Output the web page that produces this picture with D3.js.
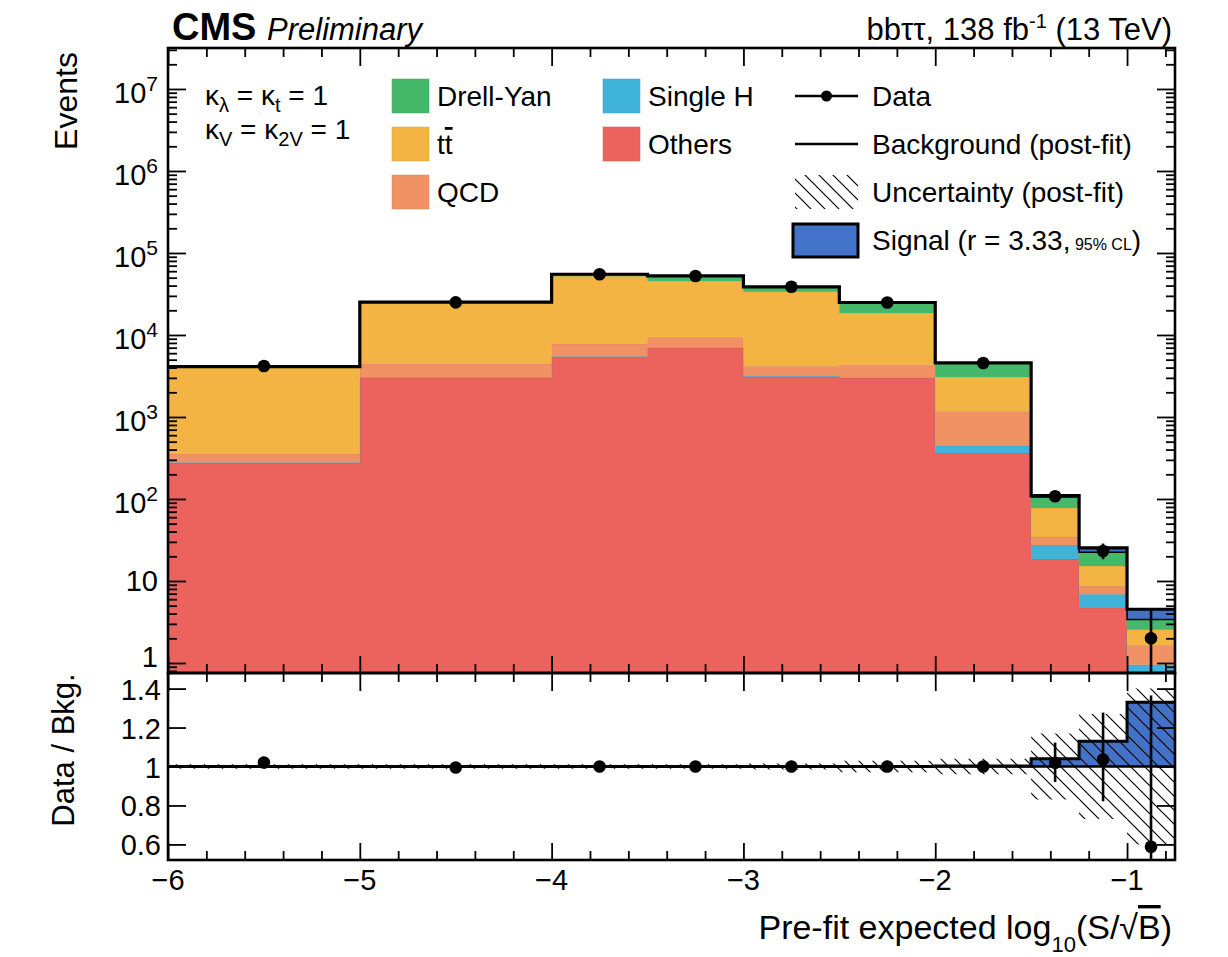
<!DOCTYPE html>
<html>
<head>
<meta charset="utf-8">
<script src="https://cdn.jsdelivr.net/npm/d3@7"></script>
<style>
body { margin: 0; background: #fff; }
svg { font-family: "Liberation Sans", Arial, Helvetica, sans-serif; }
</style>
</head>
<body>
<div id="chart"></div>
<script>
// bin edges of log10(S/sqrt(B))
const binEdges = [-6, -5, -4, -3.5, -3, -2.5, -2, -1.5, -1.25, -1, -0.75];

// post-fit background yields per bin
const others  = [275, 2990, 5390, 6950, 3075, 2990, 364, 18.5, 4.7, 0.55];
const singleH = [4, 40, 90, 110, 60, 50, 79, 9, 2.2, 0.4];
const qcd     = [76, 1400, 2290, 2320, 1035, 1290, 724, 6.9, 1.8, 0.7];
const ttbar   = [3730, 20170, 44230, 36120, 29530, 14220, 1908, 43.3, 6.5, 0.9];
const dy      = [20, 500, 3000, 7000, 5000, 6350, 1485, 28.3, 7.2, 0.85];
const signal  = [0.3, 2, 5, 8, 9, 12, 14, 4.2, 2.9, 1.12];

// observed data and its asymmetric errors
const data    = [4190, 24975, 55000, 52500, 38700, 24900, 4560, 108, 23.2, 2];
const dataErrUp   = [65, 160, 235, 230, 200, 160, 68, 11, 5.4, 2.64];
const dataErrDown = [64, 158, 234, 229, 197, 158, 67, 10.4, 4.8, 1.29];

// relative post-fit background uncertainty
const bkgUnc = [0.012, 0.012, 0.012, 0.012, 0.015, 0.03, 0.04, 0.17, 0.27, 0.4];

const yMajor = [1, 10, 100, 1e3, 1e4, 1e5, 1e6, 1e7];
const ratioTicks = [0.6, 0.8, 1, 1.2, 1.4];
const xMajor = [-6, -5, -4, -3, -2, -1];

const colors = {
    others: "#ec625d",
    singleH: "#40b3da",
    qcd: "#f19265",
    ttbar: "#f3b443",
    dy: "#46b86a",
    signal: "#4372c9"
};

const W = 1228, H = 957;
const m = {left: 168, right: 1175, top: 48, mid: 673, bottom: 860};
const yMin = 0.755, yMax = 3.16e7;

const x = d3.scaleLinear().domain([-6, -0.75]).range([m.left, m.right]);
const y = d3.scaleLog().domain([yMin, yMax]).range([m.mid, m.top]).clamp(true);
const yr = d3.scaleLinear().domain([0.52, 1.48]).range([m.bottom, m.mid]).clamp(true);

const svg = d3.select("#chart").append("svg")
    .attr("width", W)
    .attr("height", H);

const defs = svg.append("defs");
defs.append("clipPath").attr("id", "clipTop").append("rect")
    .attr("x", m.left).attr("y", m.top)
    .attr("width", m.right - m.left).attr("height", m.mid - m.top);
defs.append("clipPath").attr("id", "clipBot").append("rect")
    .attr("x", m.left).attr("y", m.mid)
    .attr("width", m.right - m.left).attr("height", m.bottom - m.mid);

// hatch pattern for the uncertainty
const pat = defs.append("pattern").attr("id", "hatch")
    .attr("patternUnits", "userSpaceOnUse")
    .attr("width", 14).attr("height", 14);
pat.append("path")
    .attr("d", "M0,0L14,14M-2,12L2,16M12,-2L16,2")
    .attr("stroke", "#000").attr("stroke-width", 1.2);

// repeat last bin so step curves reach the right edge
const stepPts = arr => Array.from(arr).concat([arr[arr.length - 1]]);
const centers = binEdges.slice(0, -1).map((e, i) => (e + binEdges[i + 1]) / 2);

// ---------- upper panel ----------
const gTop = svg.append("g").attr("clip-path", "url(#clipTop)");

const keys = ["others", "singleH", "qcd", "ttbar", "dy"];
const rows = others.map((d, i) => ({
    others: others[i], singleH: singleH[i], qcd: qcd[i], ttbar: ttbar[i], dy: dy[i]
}));
const series = d3.stack().keys(keys)(rows);

const stackArea = d3.area()
    .x((d, i) => x(binEdges[i]))
    .y0(d => y(Math.max(d[0], yMin)))
    .y1(d => y(Math.max(d[1], yMin)))
    .curve(d3.curveStepAfter);
const stackTop = d3.line()
    .x((d, i) => x(binEdges[i]))
    .y(d => y(Math.max(d[1], yMin)))
    .curve(d3.curveStepAfter);

series.forEach(s => {
    gTop.append("path")
        .attr("d", stackArea(stepPts(s)))
        .attr("fill", colors[s.key]);
    gTop.append("path")
        .attr("d", stackTop(stepPts(s)))
        .attr("fill", "none")
        .attr("stroke", d3.color(colors[s.key]).darker(0.4))
        .attr("stroke-opacity", 0.6)
        .attr("stroke-width", 1);
});

const bkgTot = rows.map(r => keys.reduce((a, k) => a + r[k], 0));
const total = bkgTot.map((b, i) => b + signal[i]);

// signal stacked on top
const sigArea = d3.area()
    .x((d, i) => x(binEdges[i]))
    .y0(d => y(d[0]))
    .y1(d => y(d[1]))
    .curve(d3.curveStepAfter);
gTop.append("path")
    .attr("d", sigArea(stepPts(bkgTot.map((b, i) => [b, total[i]]))))
    .attr("fill", colors.signal)
    .attr("stroke", "#000")
    .attr("stroke-width", 1.5);

const totLine = d3.line()
    .x((d, i) => x(binEdges[i]))
    .y(d => y(d))
    .curve(d3.curveStepAfter);
gTop.append("path")
    .attr("d", totLine(stepPts(total)))
    .attr("fill", "none")
    .attr("stroke", "#000")
    .attr("stroke-width", 3.2);

// data
gTop.selectAll("line.err").data(data).enter().append("line")
    .attr("x1", (d, i) => x(centers[i]))
    .attr("x2", (d, i) => x(centers[i]))
    .attr("y1", (d, i) => y(Math.max(d - dataErrDown[i], yMin)))
    .attr("y2", (d, i) => y(d + dataErrUp[i]))
    .attr("stroke", "#000").attr("stroke-width", 2.6);
gTop.selectAll("circle").data(data).enter().append("circle")
    .attr("cx", (d, i) => x(centers[i]))
    .attr("cy", d => y(d))
    .attr("r", 6.3)
    .attr("fill", "#000");

// ---------- ratio panel ----------
const gBot = svg.append("g").attr("clip-path", "url(#clipBot)");
const sigRatio = signal.map((s, i) => 1 + s / bkgTot[i]);

const ratioSigArea = d3.area()
    .x((d, i) => x(binEdges[i]))
    .y0(yr(1))
    .y1(d => yr(d))
    .curve(d3.curveStepAfter);
gBot.append("path")
    .attr("d", ratioSigArea(stepPts(sigRatio)))
    .attr("fill", colors.signal);

const uncBand = d3.area()
    .x((d, i) => x(binEdges[i]))
    .y0(d => yr(1 - d))
    .y1(d => yr(1 + d))
    .curve(d3.curveStepAfter);
gBot.append("path")
    .attr("d", uncBand(stepPts(bkgUnc)))
    .attr("fill", "url(#hatch)");

gBot.append("line")
    .attr("x1", m.left).attr("x2", m.right)
    .attr("y1", yr(1)).attr("y2", yr(1))
    .attr("stroke", "#000").attr("stroke-width", 2.6);

const ratioLine = d3.line()
    .x((d, i) => x(binEdges[i]))
    .y(d => yr(d))
    .curve(d3.curveStepAfter);
gBot.append("path")
    .attr("d", ratioLine(stepPts(sigRatio)))
    .attr("fill", "none")
    .attr("stroke", "#000")
    .attr("stroke-width", 3);

const ratio = data.map((d, i) => d / bkgTot[i]);
gBot.selectAll("line.rerr").data(ratio).enter().append("line")
    .attr("x1", (d, i) => x(centers[i]))
    .attr("x2", (d, i) => x(centers[i]))
    .attr("y1", (d, i) => yr(d - dataErrDown[i] / bkgTot[i]))
    .attr("y2", (d, i) => yr(d + dataErrUp[i] / bkgTot[i]))
    .attr("stroke", "#000").attr("stroke-width", 2.6);
gBot.selectAll("circle").data(ratio).enter().append("circle")
    .attr("cx", (d, i) => x(centers[i]))
    .attr("cy", d => yr(d))
    .attr("r", 6.3)
    .attr("fill", "#000");

// ---------- frames and ticks ----------
svg.append("rect")
    .attr("x", m.left).attr("y", m.top)
    .attr("width", m.right - m.left).attr("height", m.mid - m.top)
    .attr("fill", "none").attr("stroke", "#000").attr("stroke-width", 2.6);
svg.append("rect")
    .attr("x", m.left).attr("y", m.mid)
    .attr("width", m.right - m.left).attr("height", m.bottom - m.mid)
    .attr("fill", "none").attr("stroke", "#000").attr("stroke-width", 2.6);

function tickGroup(axis, vals, size, tx, ty) {
    svg.append("g")
        .attr("transform", `translate(${tx},${ty})`)
        .call(axis.tickValues(vals).tickSize(size).tickFormat(""))
        .call(g => g.select(".domain").remove())
        .selectAll("line")
        .attr("stroke", "#000")
        .attr("stroke-width", 1.8);
}

const yMinor = [];
for (let e = -1; e <= 7; e++) {
    for (let k = 2; k <= 9; k++) {
        const v = k * Math.pow(10, e);
        if (v >= yMin && v <= yMax) yMinor.push(v);
    }
}
const xMinor = d3.range(0, 27).map(i => +(-6 + i * 0.2).toFixed(2))
    .filter(v => v <= -0.75 && !xMajor.includes(v));

// upper panel y ticks
tickGroup(d3.axisLeft(y), yMajor, -18, m.left, 0);
tickGroup(d3.axisLeft(y), yMinor, -9, m.left, 0);
tickGroup(d3.axisRight(y), yMajor, -18, m.right, 0);
tickGroup(d3.axisRight(y), yMinor, -9, m.right, 0);
// upper panel x ticks
tickGroup(d3.axisTop(x), xMajor, -18, 0, m.top);
tickGroup(d3.axisTop(x), xMinor, -9, 0, m.top);
tickGroup(d3.axisBottom(x), xMajor, -17, 0, m.mid);
tickGroup(d3.axisBottom(x), xMinor, -9, 0, m.mid);
// ratio panel
tickGroup(d3.axisLeft(yr), ratioTicks, -18, m.left, 0);
tickGroup(d3.axisRight(yr), ratioTicks, -18, m.right, 0);
tickGroup(d3.axisTop(x), xMajor, -18, 0, m.mid);
tickGroup(d3.axisTop(x), xMinor, -9, 0, m.mid);
tickGroup(d3.axisBottom(x), xMajor, -17, 0, m.bottom);
tickGroup(d3.axisBottom(x), xMinor, -9, 0, m.bottom);

// ---------- tick labels ----------
const labelFont = 29;
yMajor.forEach(v => {
    const p = Math.round(Math.log10(v));
    const t = svg.append("text")
        .attr("x", 158)
        .attr("text-anchor", "end")
        .attr("font-size", labelFont);
    if (p >= 2) {
        t.attr("y", y(v) + 14);
        t.append("tspan").text("10");
        t.append("tspan").attr("font-size", 21).attr("dy", -12).text(p);
    } else {
        t.attr("y", y(v) + (p === 0 ? 4 : 10)).text(p === 1 ? "10" : "1");
    }
});
ratioTicks.forEach(v => {
    svg.append("text")
        .attr("x", 161)
        .attr("y", yr(v) + 11)
        .attr("text-anchor", "end")
        .attr("font-size", labelFont)
        .text(v === 1 ? "1" : v.toFixed(1));
});
xMajor.forEach(v => {
    svg.append("text")
        .attr("x", x(v))
        .attr("y", 890)
        .attr("text-anchor", "middle")
        .attr("font-size", labelFont)
        .text("\u2212" + Math.abs(v));
});

// axis titles
svg.append("text")
    .attr("transform", "translate(77,101) rotate(-90)")
    .attr("text-anchor", "middle")
    .attr("font-size", 32)
    .text("Events");
svg.append("text")
    .attr("transform", "translate(74,750) rotate(-90)")
    .attr("text-anchor", "middle")
    .attr("font-size", 31)
    .text("Data / Bkg.");

const xt = svg.append("text")
    .attr("x", 1172).attr("y", 939)
    .attr("text-anchor", "end")
    .attr("font-size", 34);
xt.append("tspan").text("Pre-fit expected log");
xt.append("tspan").attr("font-size", 22).attr("dy", 13).text("10");
xt.append("tspan").attr("dy", -13).text("(S/\u221A");
xt.append("tspan").attr("text-decoration", "overline").text("B");
xt.append("tspan").text(")");

// ---------- header ----------
svg.append("text")
    .attr("x", 172).attr("y", 40)
    .attr("font-size", 38)
    .attr("font-weight", "bold")
    .text("CMS");
svg.append("text")
    .attr("x", 267).attr("y", 40)
    .attr("font-size", 31)
    .attr("font-style", "italic")
    .text("Preliminary");
const hr = svg.append("text")
    .attr("x", 1172).attr("y", 40)
    .attr("text-anchor", "end")
    .attr("font-size", 31);
hr.append("tspan").text("bb\u03C4\u03C4, 138 fb");
hr.append("tspan").attr("font-size", 20).attr("dy", -12).text("-1");
hr.append("tspan").attr("dy", 12).text(" (13 TeV)");

// coupling annotation
function kappaLine(yPos, sub1, sub2) {
    const t = svg.append("text").attr("x", 205).attr("y", yPos).attr("font-size", 28);
    t.append("tspan").text("\u03BA");
    t.append("tspan").attr("font-size", 20).attr("dy", 7).text(sub1);
    t.append("tspan").attr("dy", -7).text(" = \u03BA");
    t.append("tspan").attr("font-size", 20).attr("dy", 7).text(sub2);
    t.append("tspan").attr("dy", -7).text(" = 1");
}
kappaLine(105, "\u03BB", "t");
kappaLine(139, "V", "2V");

// ---------- legend ----------
const boxLegend = [
    {label: "Drell-Yan", key: "dy", col: 0, row: 0},
    {label: "tt", key: "ttbar", col: 0, row: 1},
    {label: "QCD", key: "qcd", col: 0, row: 2},
    {label: "Single H", key: "singleH", col: 1, row: 0},
    {label: "Others", key: "others", col: 1, row: 1}
];
const colX = [392, 603];
const rowY = [96, 144, 192, 240];
boxLegend.forEach(d => {
    svg.append("rect")
        .attr("x", colX[d.col]).attr("y", rowY[d.row] - 17)
        .attr("width", 37).attr("height", 34)
        .attr("fill", colors[d.key])
        .attr("stroke", d3.color(colors[d.key]).darker(0.3))
        .attr("stroke-opacity", 0.5);
    const t = svg.append("text")
        .attr("x", colX[d.col] + 45).attr("y", rowY[d.row] + 10)
        .attr("font-size", 28);
    if (d.key === "ttbar") {
        t.append("tspan").text("t");
        t.append("tspan").attr("text-decoration", "overline").text("t");
    } else {
        t.text(d.label);
    }
});

const lx0 = 795, lx1 = 858, ltx = 872;
svg.append("line").attr("x1", lx0).attr("x2", lx1).attr("y1", rowY[0]).attr("y2", rowY[0])
    .attr("stroke", "#000").attr("stroke-width", 2.6);
svg.append("circle").attr("cx", (lx0 + lx1) / 2).attr("cy", rowY[0]).attr("r", 5.5).attr("fill", "#000");
svg.append("line").attr("x1", lx0).attr("x2", lx1).attr("y1", rowY[1]).attr("y2", rowY[1])
    .attr("stroke", "#000").attr("stroke-width", 2.6);
svg.append("rect").attr("x", lx0).attr("y", rowY[2] - 17).attr("width", lx1 - lx0).attr("height", 34)
    .attr("fill", "url(#hatch)");
svg.append("rect").attr("x", 793).attr("y", rowY[3] - 16).attr("width", 65).attr("height", 33)
    .attr("fill", colors.signal).attr("stroke", "#000").attr("stroke-width", 3);

const legendText = ["Data", "Background (post-fit)", "Uncertainty (post-fit)"];
legendText.forEach((s, i) => {
    svg.append("text").attr("x", ltx).attr("y", rowY[i] + 10).attr("font-size", 28).text(s);
});
const sg = svg.append("text").attr("x", ltx).attr("y", rowY[3] + 10).attr("font-size", 28);
sg.append("tspan").text("Signal (r = 3.33,");
sg.append("tspan").attr("font-size", 16).text(" 95% CL");
sg.append("tspan").text(")");
</script>
</body>
</html>
